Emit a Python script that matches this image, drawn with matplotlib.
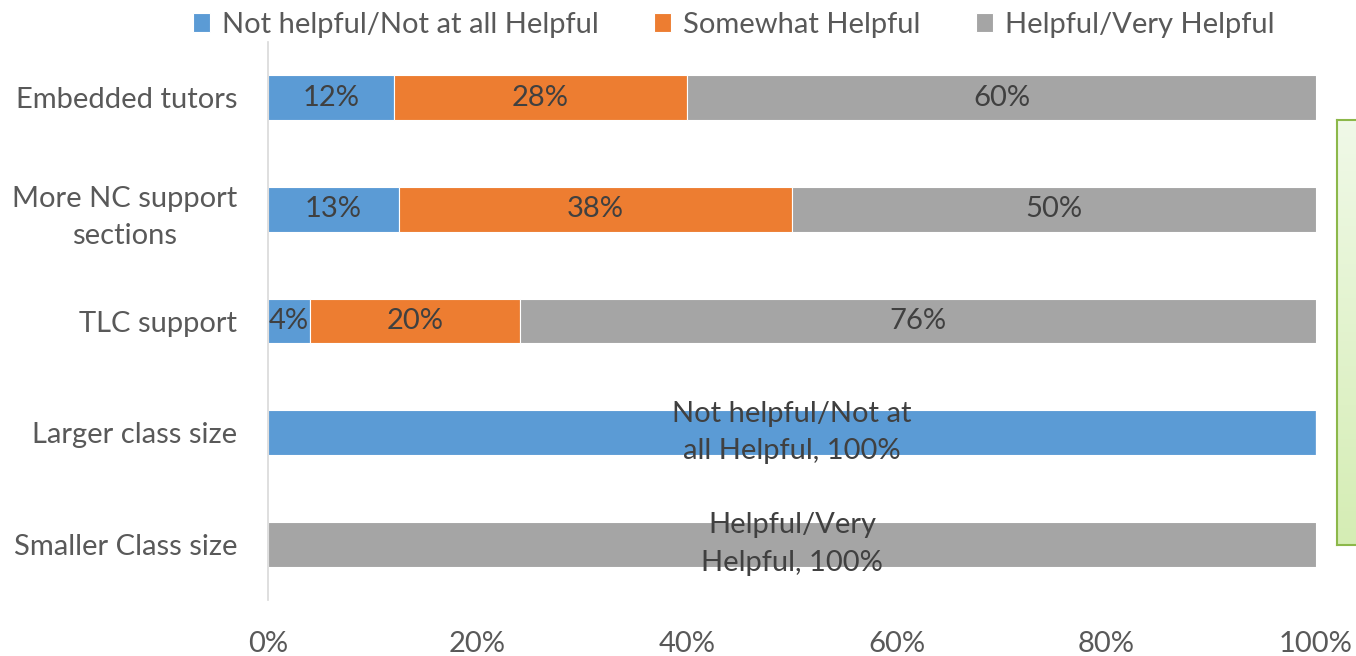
import numpy as np
from matplotlib import pyplot as plt
from matplotlib.ticker import PercentFormatter

categories = ['Embedded tutors', 'More NC support\nsections', 'TLC support',
              'Larger class size', 'Smaller Class size']
series_names = ['Not helpful/Not at all Helpful', 'Somewhat Helpful', 'Helpful/Very Helpful']
not_helpful = [12, 12.5, 4, 100, 0]
somewhat = [28, 37.5, 20, 0, 0]
helpful = [60, 50, 76, 0, 100]
labels_not = ['12%', '13%', '4%', 'Not helpful/Not at\nall Helpful, 100%', '']
labels_some = ['28%', '38%', '20%', '', '']
labels_help = ['60%', '50%', '76%', '', 'Helpful/Very\nHelpful, 100%']

colors = ['#5B9BD5', '#ED7D31', '#A5A5A5']
txt = '#595959'
lbl = '#404040'
plt.rcParams['font.family'] = ['Lato', 'DejaVu Sans']
fs = 21

fig = plt.figure(figsize=(13.56, 6.56), dpi=100)
ax = fig.add_axes([268 / 1356, 1 - 600 / 656, 1048 / 1356, 558 / 656])

y = np.arange(len(categories))
left = np.zeros(len(categories))
for vals, labs, col, name in zip([not_helpful, somewhat, helpful],
                                 [labels_not, labels_some, labels_help],
                                 colors, series_names):
    vals = np.array(vals, dtype=float)
    bars = ax.barh(y, vals, left=left, height=0.4, color=col, edgecolor='white',
                   linewidth=0.8, label=name)
    for b, v, s in zip(bars, vals, labs):
        if s:
            ax.text(b.get_x() + b.get_width() / 2, b.get_y() + b.get_height() / 2, s,
                    ha='center', va='center', fontsize=fs, color=lbl, linespacing=1.55)
    left += vals

ax.set_ylim(len(categories) - 0.5, -0.5)
ax.set_xlim(0, 100)
ax.set_yticks(y)
ax.set_yticklabels(categories, fontsize=fs, color=txt, linespacing=1.55,
                   multialignment='center')
ax.xaxis.set_major_formatter(PercentFormatter(decimals=0))
ax.set_xticks([0, 20, 40, 60, 80, 100])
ax.tick_params(axis='x', labelsize=fs, colors=txt, length=0, pad=22)
ax.tick_params(axis='y', length=0, pad=22)
for s in ['top', 'right', 'bottom']:
    ax.spines[s].set_visible(False)
ax.spines['left'].set_color('#D9D9D9')
ax.spines['left'].set_linewidth(1.2)

leg = fig.legend(loc='upper center', bbox_to_anchor=(0.541, 1.022), ncol=3, frameon=False,
                 fontsize=fs, handlelength=0.6, handleheight=0.6, handletextpad=0.4,
                 columnspacing=1.9)
for t in leg.get_texts():
    t.set_color(txt)

# green callout box partly visible at the right edge
bx = fig.add_axes([1337 / 1356, 1 - 545 / 656, 0.05, 425 / 656])
grad = np.linspace(0, 1, 100).reshape(-1, 1)
bx.imshow(grad, aspect='auto', cmap=plt.matplotlib.colors.LinearSegmentedColormap.from_list(
    'g', ['#F0F9E8', '#D5EDB4']), extent=[0, 1, 0, 1])
bx.set_xticks([])
bx.set_yticks([])
for s in bx.spines.values():
    s.set_color('#8CB84A')
    s.set_linewidth(1.5)

fig.savefig('out.png', dpi=100)
